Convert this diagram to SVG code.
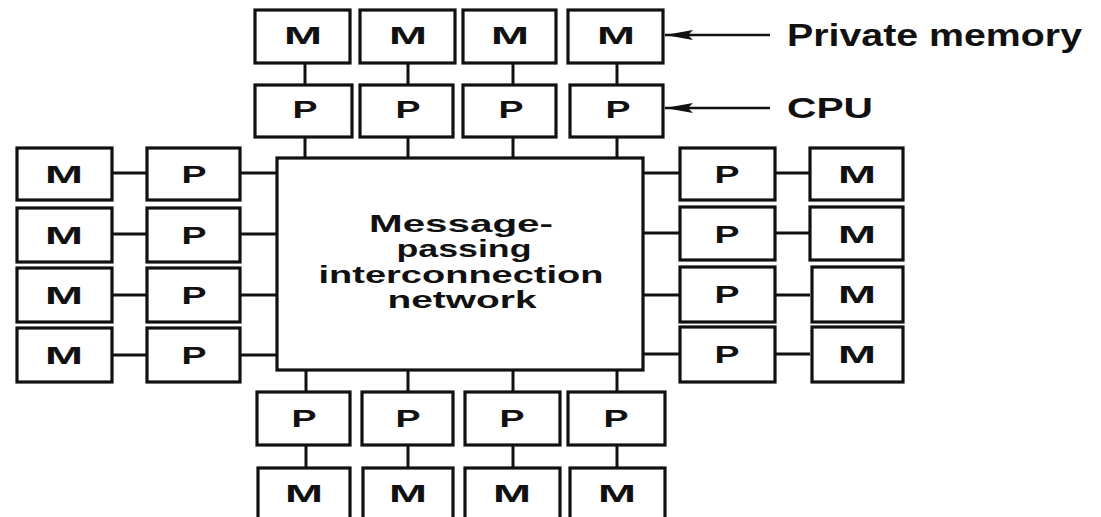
<svg xmlns="http://www.w3.org/2000/svg" width="1101" height="517" viewBox="0 0 1101 517">
<style>
.box{fill:#fff;stroke:#111;stroke-width:3.2}
.ln{stroke:#111;stroke-width:3;fill:none}
.ar{stroke:#111;stroke-width:2.4;fill:none}
text{font-family:"Liberation Sans",Arial,sans-serif;font-weight:bold;fill:#111}
.lt{font-size:23px;text-anchor:middle}
.ct{font-size:24px;text-anchor:middle}
</style>
<defs>
<marker id="ah" viewBox="0 0 28 10" refX="28" refY="5" markerWidth="28" markerHeight="10" markerUnits="userSpaceOnUse" orient="auto">
<path d="M0,0 L28,5 L0,10 L5,5 Z" fill="#111"/>
</marker>
</defs>
<rect width="1101" height="517" fill="#fff"/>
<g id="connectors">
<path class="ln" d="M305,63V85M408,63V85M513,63V85M617,63V85"/>
<path class="ln" d="M305,137V158M408,137V158M513,137V158M617,137V158"/>
<path class="ln" d="M306,370V392M408,370V392M513,370V392M617,370V392"/>
<path class="ln" d="M306,445V468M408,445V468M513,445V468M617,445V468"/>
<path class="ln" d="M112,173H147M112,234H147M112,295H147M112,355H147"/>
<path class="ln" d="M240,173H277M240,234H277M240,295H277M240,355H277"/>
<path class="ln" d="M643,173H680M643,233H680M643,295H680M643,354H680"/>
<path class="ln" d="M775,173H810M775,233H810M775,295H810M775,354H810"/>
<line class="ar" x1="770" y1="35" x2="665" y2="35" marker-end="url(#ah)"/>
<line class="ar" x1="770" y1="108" x2="665" y2="108" marker-end="url(#ah)"/>
</g>
<g id="network"><rect class="box" x="277" y="158" width="366" height="212"/>
<text class="ct" x="461" y="232" textLength="184" lengthAdjust="spacingAndGlyphs">Message-</text>
<text class="ct" x="464" y="257" textLength="135" lengthAdjust="spacingAndGlyphs">passing</text>
<text class="ct" x="461" y="283" textLength="285" lengthAdjust="spacingAndGlyphs">interconnection</text>
<text class="ct" x="462" y="308" textLength="149" lengthAdjust="spacingAndGlyphs">network</text>
</g>
<g id="top-m1"><rect class="box" x="255" y="10" width="95" height="53"/><text class="lt" x="303" y="44" textLength="38" lengthAdjust="spacingAndGlyphs">M</text></g>
<g id="top-m2"><rect class="box" x="360" y="10" width="95" height="53"/><text class="lt" x="408" y="44" textLength="38" lengthAdjust="spacingAndGlyphs">M</text></g>
<g id="top-m3"><rect class="box" x="463" y="10" width="93" height="53"/><text class="lt" x="510" y="44" textLength="38" lengthAdjust="spacingAndGlyphs">M</text></g>
<g id="top-m4"><rect class="box" x="568" y="10" width="95" height="53"/><text class="lt" x="616" y="44" textLength="38" lengthAdjust="spacingAndGlyphs">M</text></g>
<g id="top-p1"><rect class="box" x="255" y="85" width="97" height="52"/><text class="lt" x="305" y="118" textLength="25" lengthAdjust="spacingAndGlyphs">P</text></g>
<g id="top-p2"><rect class="box" x="360" y="85" width="93" height="52"/><text class="lt" x="408" y="118" textLength="25" lengthAdjust="spacingAndGlyphs">P</text></g>
<g id="top-p3"><rect class="box" x="463" y="85" width="93" height="52"/><text class="lt" x="511" y="118" textLength="25" lengthAdjust="spacingAndGlyphs">P</text></g>
<g id="top-p4"><rect class="box" x="570" y="85" width="93" height="52"/><text class="lt" x="618" y="118" textLength="25" lengthAdjust="spacingAndGlyphs">P</text></g>
<g id="left-m1"><rect class="box" x="17" y="148" width="95" height="52"/><text class="lt" x="64" y="183" textLength="38" lengthAdjust="spacingAndGlyphs">M</text></g>
<g id="left-m2"><rect class="box" x="17" y="208" width="95" height="54"/><text class="lt" x="64" y="244" textLength="38" lengthAdjust="spacingAndGlyphs">M</text></g>
<g id="left-m3"><rect class="box" x="17" y="268" width="95" height="54"/><text class="lt" x="64" y="304" textLength="38" lengthAdjust="spacingAndGlyphs">M</text></g>
<g id="left-m4"><rect class="box" x="17" y="328" width="95" height="54"/><text class="lt" x="64" y="364" textLength="38" lengthAdjust="spacingAndGlyphs">M</text></g>
<g id="left-p1"><rect class="box" x="147" y="148" width="93" height="52"/><text class="lt" x="194" y="183" textLength="25" lengthAdjust="spacingAndGlyphs">P</text></g>
<g id="left-p2"><rect class="box" x="147" y="208" width="93" height="54"/><text class="lt" x="194" y="244" textLength="25" lengthAdjust="spacingAndGlyphs">P</text></g>
<g id="left-p3"><rect class="box" x="147" y="268" width="93" height="54"/><text class="lt" x="194" y="304" textLength="25" lengthAdjust="spacingAndGlyphs">P</text></g>
<g id="left-p4"><rect class="box" x="147" y="328" width="93" height="54"/><text class="lt" x="194" y="364" textLength="25" lengthAdjust="spacingAndGlyphs">P</text></g>
<g id="right-p1"><rect class="box" x="680" y="148" width="95" height="52"/><text class="lt" x="727" y="183" textLength="25" lengthAdjust="spacingAndGlyphs">P</text></g>
<g id="right-p2"><rect class="box" x="680" y="207" width="95" height="53"/><text class="lt" x="727" y="243" textLength="25" lengthAdjust="spacingAndGlyphs">P</text></g>
<g id="right-p3"><rect class="box" x="680" y="267" width="95" height="55"/><text class="lt" x="727" y="303" textLength="25" lengthAdjust="spacingAndGlyphs">P</text></g>
<g id="right-p4"><rect class="box" x="680" y="327" width="95" height="55"/><text class="lt" x="727" y="363" textLength="25" lengthAdjust="spacingAndGlyphs">P</text></g>
<g id="right-m1"><rect class="box" x="810" y="148" width="93" height="52"/><text class="lt" x="857" y="183" textLength="38" lengthAdjust="spacingAndGlyphs">M</text></g>
<g id="right-m2"><rect class="box" x="810" y="207" width="93" height="53"/><text class="lt" x="857" y="243" textLength="38" lengthAdjust="spacingAndGlyphs">M</text></g>
<g id="right-m3"><rect class="box" x="812" y="267" width="91" height="55"/><text class="lt" x="857" y="303" textLength="38" lengthAdjust="spacingAndGlyphs">M</text></g>
<g id="right-m4"><rect class="box" x="812" y="327" width="91" height="55"/><text class="lt" x="857" y="363" textLength="38" lengthAdjust="spacingAndGlyphs">M</text></g>
<g id="bot-p1"><rect class="box" x="257" y="392" width="93" height="53"/><text class="lt" x="304" y="427" textLength="25" lengthAdjust="spacingAndGlyphs">P</text></g>
<g id="bot-p2"><rect class="box" x="362" y="392" width="91" height="53"/><text class="lt" x="408" y="427" textLength="25" lengthAdjust="spacingAndGlyphs">P</text></g>
<g id="bot-p3"><rect class="box" x="465" y="392" width="95" height="53"/><text class="lt" x="512" y="427" textLength="25" lengthAdjust="spacingAndGlyphs">P</text></g>
<g id="bot-p4"><rect class="box" x="568" y="392" width="97" height="53"/><text class="lt" x="616" y="427" textLength="25" lengthAdjust="spacingAndGlyphs">P</text></g>
<g id="bot-m1"><rect class="box" x="258" y="468" width="92" height="60"/><text class="lt" x="304" y="502" textLength="38" lengthAdjust="spacingAndGlyphs">M</text></g>
<g id="bot-m2"><rect class="box" x="363" y="468" width="90" height="60"/><text class="lt" x="408" y="502" textLength="38" lengthAdjust="spacingAndGlyphs">M</text></g>
<g id="bot-m3"><rect class="box" x="465" y="468" width="95" height="60"/><text class="lt" x="512" y="502" textLength="38" lengthAdjust="spacingAndGlyphs">M</text></g>
<g id="bot-m4"><rect class="box" x="570" y="468" width="95" height="60"/><text class="lt" x="617" y="502" textLength="38" lengthAdjust="spacingAndGlyphs">M</text></g>
<g id="label-private-memory"><text x="787" y="46" font-size="32" textLength="295" lengthAdjust="spacingAndGlyphs">Private memory</text></g>
<g id="label-cpu"><text x="787" y="118" font-size="30" textLength="86" lengthAdjust="spacingAndGlyphs">CPU</text></g>
</svg>
